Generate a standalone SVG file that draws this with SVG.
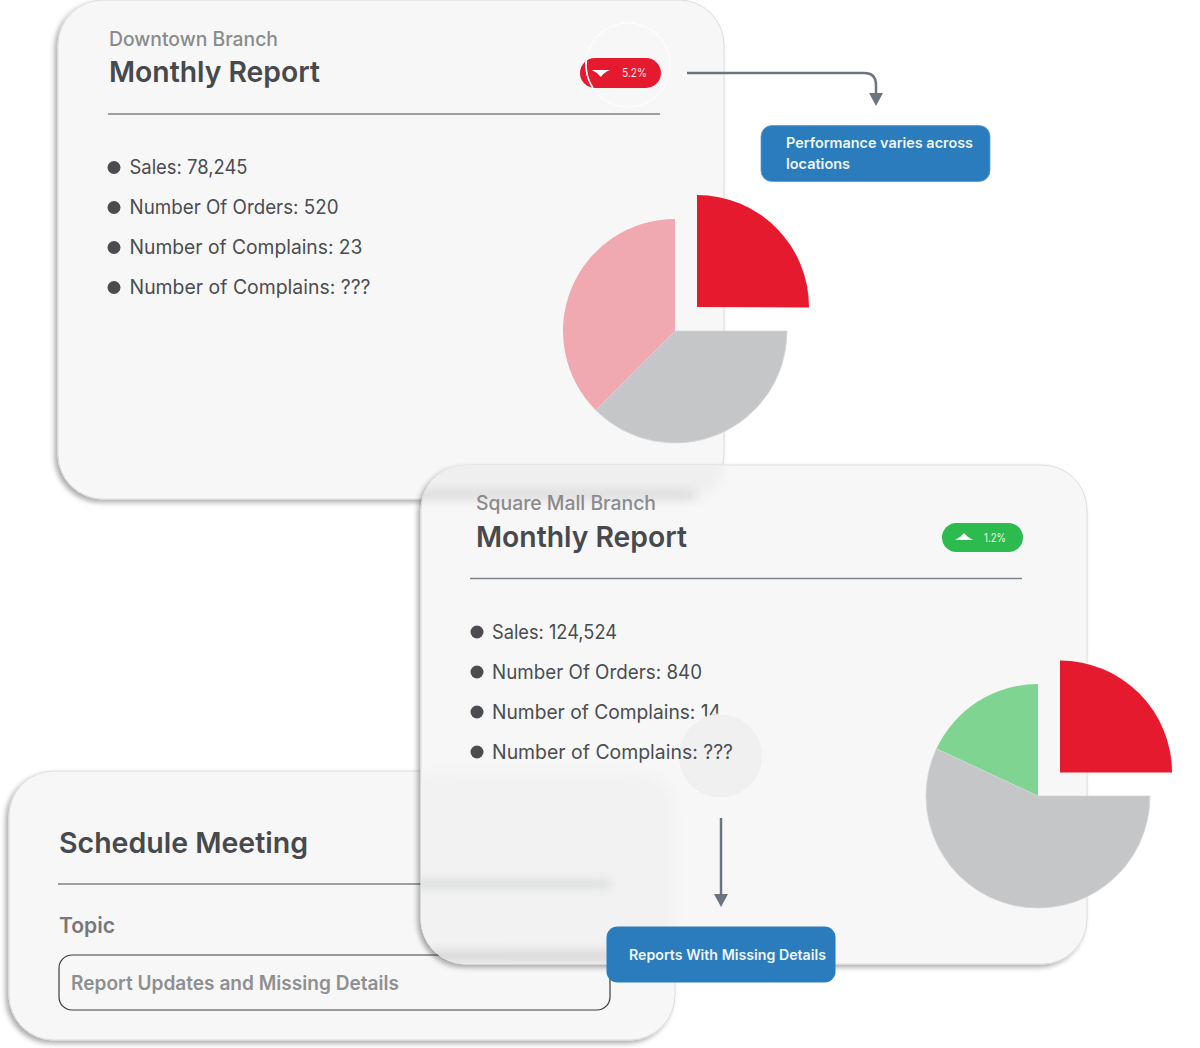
<svg xmlns="http://www.w3.org/2000/svg" width="1200" height="1048" viewBox="0 0 1200 1048">
<style>
text{font-family:"Inter","Noto Sans","Liberation Sans",sans-serif}
.card{fill:#f7f7f7;stroke:#dcdcdc;stroke-width:1;filter:url(#sh)}
.div{stroke:#7b8388;stroke-width:1.5;fill:none}
.sub{font-size:19.500px;font-weight:500;fill:#8a8b8d}
.title{font-size:29px;font-weight:600;fill:#47494d}
.item{font-size:19.500px;font-weight:400;fill:#4a4c50}
.dot{fill:#4a4c50}
.lbl{font-size:14px;font-weight:600;fill:#eef6fb}
.blue{fill:#2b7cbd;stroke:#5a9ccf;stroke-width:.8}
.pct{font-size:11.500px;fill:#fbe4e6}
.conn{fill:none;stroke:#6c7480;stroke-width:2.500}
.red{fill:#e51a2e}.gray{fill:#c4c6c7;stroke:#d4d6d6;stroke-width:.8}
</style>
<defs>
<filter id="sh" x="-5%" y="-5%" width="110%" height="110%"><feDropShadow dx="-3" dy="3" stdDeviation="2.500" flood-color="#000" flood-opacity=".32"/></filter>
<filter id="bl" x="-10%" y="-30%" width="120%" height="160%"><feGaussianBlur stdDeviation="6"/></filter>
<filter id="bl2" filterUnits="userSpaceOnUse" x="380" y="440" width="360" height="560"><feGaussianBlur stdDeviation="5"/></filter>
<clipPath id="c2"><rect x="421" y="465" width="666" height="499" rx="45"/></clipPath>
<marker id="ah" markerUnits="userSpaceOnUse" markerWidth="15" markerHeight="15" refX="7" refY="7.500" orient="auto"><path d="M1,.5L14,7.500L1,14.500Z" fill="#6c7480"/></marker>
</defs>

<g id="card-downtown">
<rect class="card" x="58" y="0" width="666" height="499" rx="45"/>
<text class="sub" x="109" y="46" textLength="169" lengthAdjust="spacingAndGlyphs">Downtown Branch</text>
<text class="title" x="109" y="82" textLength="211" lengthAdjust="spacingAndGlyphs">Monthly Report</text>
<path class="div" d="M108,114H660"/>
<circle class="dot" cx="114" cy="167.500" r="6.500"/><circle class="dot" cx="114" cy="207.500" r="6.500"/><circle class="dot" cx="114" cy="247.500" r="6.500"/><circle class="dot" cx="114" cy="287.500" r="6.500"/>
<text class="item" x="129.500" y="174" textLength="118" lengthAdjust="spacingAndGlyphs">Sales: 78,245</text>
<text class="item" x="129.500" y="214" textLength="209" lengthAdjust="spacingAndGlyphs">Number Of Orders: 520</text>
<text class="item" x="129.500" y="254" textLength="233" lengthAdjust="spacingAndGlyphs">Number of Complains: 23</text>
<text class="item" x="129.500" y="294" textLength="241" lengthAdjust="spacingAndGlyphs">Number of Complains: ???</text>
</g>
<g id="badge-down">
<rect class="red" x="580" y="58" width="81" height="30" rx="15"/>
<path d="M592,70H610Q603,73 601,77Q598,73 592,70Z" fill="#fff"/>
<text class="pct" x="622" y="77" textLength="25" lengthAdjust="spacingAndGlyphs">5.2%</text>
<circle cx="628" cy="65" r="42" fill="none" stroke="#fff" stroke-width="1.200" stroke-dasharray="3 1"/>
<path d="M586.600,58A42,42 0 0 0 593,88" fill="none" stroke="#fff" stroke-width="1.600"/>
</g>
<g id="pie-downtown">
<path d="M675,331L595.800,410.200A112,112 0 0 1 675,219Z" fill="#f0a9b0"/>
<path class="gray" d="M675,331H787A112,112 0 0 1 595.800,410.200Z"/>
<path class="red" d="M697,307V195A112,112 0 0 1 809,307.500Z"/>
</g>

<g id="card-schedule">
<rect class="card" x="9" y="771" width="666" height="269" rx="45"/>
<text class="title" x="59" y="852.500" textLength="249" lengthAdjust="spacingAndGlyphs">Schedule Meeting</text>
<path class="div" d="M58,884H610"/>
<text x="59" y="933" font-size="21" font-weight="600" fill="#77787b" textLength="56" lengthAdjust="spacingAndGlyphs">Topic</text>
<rect x="59" y="955" width="551" height="55" rx="13" fill="none" stroke="#3a3c40" stroke-width="1.200"/>
<text x="71" y="990" font-size="19.500" font-weight="600" fill="#8e8f91" textLength="328" lengthAdjust="spacingAndGlyphs">Report Updates and Missing Details</text>
</g>

<g id="card-square">
<rect class="card" x="421" y="465" width="666" height="499" rx="45"/>
<g clip-path="url(#c2)">
<path d="M400,440H724V460Q724,499 680,499H400Z" fill="#efefef" filter="url(#bl)"/>
<rect x="410" y="491" width="285" height="8" fill="#c4c4c4" filter="url(#bl2)" opacity=".5"/>
<rect x="400" y="771" width="275" height="220" rx="40" fill="#f2f2f2" filter="url(#bl)"/>
<rect x="410" y="880" width="200" height="8" fill="#cfd1d2" filter="url(#bl2)" opacity=".7"/>
<rect x="410" y="951" width="230" height="10" fill="#c0c0c0" filter="url(#bl2)" opacity=".55"/>
</g>
<text class="sub" x="476" y="510" textLength="180" lengthAdjust="spacingAndGlyphs">Square Mall Branch</text>
<text class="title" x="476" y="547" textLength="211" lengthAdjust="spacingAndGlyphs">Monthly Report</text>
<path class="div" d="M470,578.500H1022"/>
<circle class="dot" cx="477" cy="632" r="6.500"/><circle class="dot" cx="477" cy="672" r="6.500"/><circle class="dot" cx="477" cy="712" r="6.500"/><circle class="dot" cx="477" cy="752" r="6.500"/>
<text class="item" x="492" y="639" textLength="125" lengthAdjust="spacingAndGlyphs">Sales: 124,524</text>
<text class="item" x="492" y="679" textLength="210" lengthAdjust="spacingAndGlyphs">Number Of Orders: 840</text>
<text class="item" x="492" y="719" textLength="229" lengthAdjust="spacingAndGlyphs">Number of Complains: 14</text>
<circle cx="720.500" cy="756" r="42" fill="#f0f0f0" stroke="#fbfbfb" stroke-width="1" stroke-dasharray="3 1"/>
<text class="item" x="492" y="759" textLength="241" lengthAdjust="spacingAndGlyphs">Number of Complains: ???</text>
</g>
<g id="badge-up">
<rect x="942" y="523" width="81" height="29" rx="14.500" fill="#2dba4e"/>
<path d="M955,540H973Q967,537 964,533Q961,537 955,540Z" fill="#fff"/>
<text class="pct" x="984" y="542" textLength="22" lengthAdjust="spacingAndGlyphs" style="fill:#e6f8ea">1.2%</text>
</g>
<g id="pie-square">
<path d="M1038,796L936.500,748.700A112,112 0 0 1 1038,684Z" fill="#7fd491"/>
<path class="gray" d="M1038,796H1150A112,112 0 1 1 936.500,748.700Z"/>
<path class="red" d="M1060,772.500V660.500A112,112 0 0 1 1172,772.500Z"/>
</g>

<g id="connectors">
<path class="conn" marker-end="url(#ah)" d="M687,73H864Q876,73 876,85V99"/>
<path class="conn" marker-end="url(#ah)" d="M721,818V900"/>
</g>

<g id="note-performance">
<rect class="blue" x="761" y="125.500" width="229" height="56" rx="11"/>
<text class="lbl" x="786" y="148" textLength="187" lengthAdjust="spacingAndGlyphs">Performance varies across</text>
<text class="lbl" x="786" y="169" textLength="64" lengthAdjust="spacingAndGlyphs">locations</text>
</g>
<g id="note-missing">
<rect class="blue" x="606.500" y="926.500" width="229" height="56" rx="11" style="stroke:none"/>
<text class="lbl" x="629" y="960" textLength="197" lengthAdjust="spacingAndGlyphs">Reports With Missing Details</text>
</g>
</svg>
